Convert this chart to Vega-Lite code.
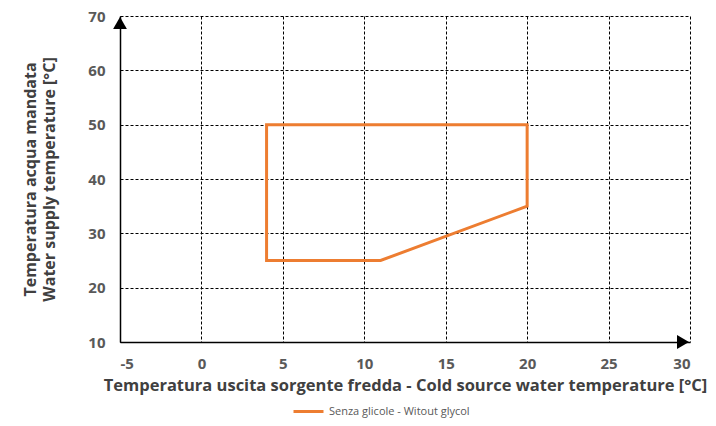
{
  "$schema": "https://vega.github.io/schema/vega-lite/v6.json",
  "width": 570,
  "height": 326,
  "autosize": {"type": "none"},
  "padding": {"left": 120, "top": 16, "right": 26, "bottom": 84},
  "background": "white",
  "config": {
    "view": {"stroke": null},
    "font": "Open Sans"
  },
  "datasets": {
    "envelope": [
      {"order": 1, "t_src": 4, "t_sup": 25, "series": "Senza glicole - Witout glycol"},
      {"order": 2, "t_src": 4, "t_sup": 50, "series": "Senza glicole - Witout glycol"},
      {"order": 3, "t_src": 20, "t_sup": 50, "series": "Senza glicole - Witout glycol"},
      {"order": 4, "t_src": 20, "t_sup": 35, "series": "Senza glicole - Witout glycol"},
      {"order": 5, "t_src": 11, "t_sup": 25, "series": "Senza glicole - Witout glycol"},
      {"order": 6, "t_src": 4, "t_sup": 25, "series": "Senza glicole - Witout glycol"}
    ],
    "arrows": [
      {"t_src": -5, "t_sup": 70, "dir": "up"},
      {"t_src": 30, "t_sup": 10, "dir": "right"}
    ]
  },
  "layer": [
    {
      "data": {"name": "envelope"},
      "mark": {"type": "line", "strokeWidth": 3, "strokeJoin": "miter", "strokeCap": "square"},
      "encoding": {
        "x": {
          "field": "t_src", "type": "quantitative",
          "scale": {"domain": [-5, 30], "nice": false, "zero": false},
          "axis": {
            "values": [-5, 0, 5, 10, 15, 20, 25, 30],
            "labelExpr": "replace(datum.label, '−', '-')",
            "title": "Temperatura uscita sorgente fredda - Cold source water temperature [°C]",
            "titleFontSize": 16.5, "titleFontWeight": "bold", "titleColor": "#404040",
            "titlePadding": 6,
            "labelFontSize": 15, "labelFontWeight": "bold", "labelColor": "#595959",
            "labelPadding": 14, "ticks": false,
            "domainColor": "black", "domainWidth": 1.5,
            "grid": true, "gridColor": "black", "gridDash": [3, 2], "gridWidth": 1, "gridOpacity": 1
          }
        },
        "y": {
          "field": "t_sup", "type": "quantitative",
          "scale": {"domain": [10, 70], "nice": false, "zero": false},
          "axis": {
            "values": [10, 20, 30, 40, 50, 60, 70],
            "title": ["Temperatura acqua mandata", "Water supply temperature [°C]"],
            "titleFontSize": 16, "titleFontWeight": "bold", "titleColor": "#404040",
            "titlePadding": 30, "titleLineHeight": 19,
            "labelFontSize": 15, "labelFontWeight": "bold", "labelColor": "#595959",
            "labelPadding": 15, "ticks": false,
            "domainColor": "black", "domainWidth": 1.5,
            "grid": true, "gridColor": "black", "gridDash": [3, 2], "gridWidth": 1, "gridOpacity": 1
          }
        },
        "order": {"field": "order", "type": "quantitative"},
        "color": {
          "field": "series", "type": "nominal",
          "scale": {"range": ["#ED7D31"]},
          "legend": {
            "title": null, "orient": "none", "legendX": 172, "legendY": 379,
            "symbolType": "stroke", "symbolSize": 900, "symbolStrokeWidth": 3,
            "labelFontSize": 11, "labelColor": "#595959", "labelFontWeight": "normal"
          }
        }
      }
    },
    {
      "data": {"name": "arrows"},
      "transform": [{"filter": "datum.dir === 'up'"}],
      "mark": {"type": "point", "filled": true, "fill": "black", "stroke": null, "opacity": 1, "size": 190,
               "shape": "triangle-up", "yOffset": 7, "clip": false},
      "encoding": {
        "x": {"field": "t_src", "type": "quantitative"},
        "y": {"field": "t_sup", "type": "quantitative"}
      }
    },
    {
      "data": {"name": "arrows"},
      "transform": [{"filter": "datum.dir === 'right'"}],
      "mark": {"type": "point", "filled": true, "fill": "black", "stroke": null, "opacity": 1, "size": 190,
               "shape": "triangle-right", "xOffset": -7, "clip": false},
      "encoding": {
        "x": {"field": "t_src", "type": "quantitative"},
        "y": {"field": "t_sup", "type": "quantitative"}
      }
    }
  ]
}
